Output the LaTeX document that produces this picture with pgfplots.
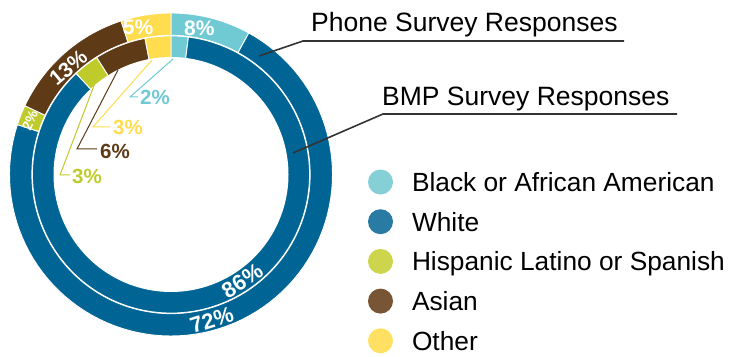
\documentclass[border=0pt]{standalone}
\usepackage{pgfplots}
\pgfplotsset{compat=1.18}
\usepackage{fontspec}
\setmainfont{Liberation Sans}

\definecolor{cyanR}{HTML}{6FCAD3}
\definecolor{blueR}{HTML}{006595}
\definecolor{greenR}{HTML}{BFCB2A}
\definecolor{brownR}{HTML}{5E3A16}
\definecolor{yellowR}{HTML}{FFDD4E}
\definecolor{cyanL}{HTML}{85D0D7}
\definecolor{blueL}{HTML}{2A7BA3}
\definecolor{greenL}{HTML}{CCD54B}
\definecolor{brownL}{HTML}{785535}
\definecolor{yellowL}{HTML}{FFE063}
\definecolor{leader}{HTML}{333333}

% segment: colour, cumulative % start, cumulative % end, radius
\newcommand\seg[4]{\addplot[forget plot, fill=#1, draw=white, line width=0.9pt, data cs=polar, domain={90-3.6*#3}:{90-3.6*#2}, samples=90] {#4} -- (axis cs:0,0) -- cycle;}
\newcommand\disk[1]{\addplot[forget plot, fill=white, draw=none, data cs=polar, domain=0:360, samples=180] {#1} -- cycle;}

\begin{document}
\begin{tikzpicture}
\begin{axis}[
  x=1pt, y=1pt,
  xmin=-171, xmax=559, ymin=-176.5, ymax=174.5,
  hide axis, clip=false,
  legend cell align=left,
  legend style={at={(axis cs:197,5.1)}, anchor=north west, draw=none, fill=none,
    inner sep=0pt, outer sep=0pt, row sep=11.7pt, column sep=19pt,
    font=\fontsize{26.3}{30}\selectfont,
    nodes={inner sep=0pt, text height=22pt, text depth=6pt}},
  legend image code/.code={\fill[#1] (12.5pt,1.4pt) circle (12.5pt);},
]
\path (axis cs:-171,-176.5) rectangle (axis cs:559,174.5);

% Phone Survey Responses (outer ring): Black 8, White 72, Hispanic 2, Asian 13, Other 5
\seg{cyanR}{0}{8}{161.5}
\seg{blueR}{8}{80}{161.5}
\seg{greenR}{80}{82}{161.5}
\seg{brownR}{82}{95}{161.5}
\seg{yellowR}{95}{100}{161.5}
\disk{139.6}
% BMP Survey Responses (inner ring): Black 2, White 86, Hispanic 3, Asian 6, Other 3
\seg{cyanR}{0}{2}{138.6}
\seg{blueR}{2}{88}{138.6}
\seg{greenR}{88}{91}{138.6}
\seg{brownR}{91}{97}{138.6}
\seg{yellowR}{97}{100}{138.6}
\disk{117.5}

% legend
\addlegendimage{fill=cyanL, draw=none}\addlegendentry{Black or African American}
\addlegendimage{fill=blueL, draw=none}\addlegendentry{White}
\addlegendimage{fill=greenL, draw=none}\addlegendentry{Hispanic Latino or Spanish}
\addlegendimage{fill=brownL, draw=none}\addlegendentry{Asian}
\addlegendimage{fill=yellowL, draw=none}\addlegendentry{Other}

% ring labels
\begin{scope}[every node/.style={text=white, font=\bfseries\fontsize{21}{24}\selectfont, inner sep=0pt}]
\node at (axis cs:28.3,146.5) {8\%};
\node at (axis cs:-33,147.5) {5\%};
\node[rotate=40] at (axis cs:-102.7,107) {13\%};
\node[rotate=66, font=\bfseries\fontsize{14}{16}\selectfont] at (axis cs:-141,54.5) {2\%};
\node[rotate=33, font=\bfseries\fontsize{22}{24}\selectfont] at (axis cs:71.2,-106.3) {86\%};
\node[rotate=17, font=\bfseries\fontsize{22}{24}\selectfont] at (axis cs:40.7,-145.5) {72\%};
\end{scope}

% callouts for inner ring
\draw[cyanR, line width=1pt] (axis cs:2,115.5) -- (axis cs:-41,77.5) -- (axis cs:-33,77.5);
\draw[yellowR, line width=1pt] (axis cs:-19,114.5) -- (axis cs:-78,47.5) -- (axis cs:-61,47.5);
\draw[brownR, line width=1pt] (axis cs:-53,104.5) -- (axis cs:-94,25.5) -- (axis cs:-74,25.5);
\draw[greenR, line width=1pt] (axis cs:-76,91.5) -- (axis cs:-111,-0.5) -- (axis cs:-101,-0.5);
\begin{scope}[every node/.style={anchor=base west, font=\bfseries\fontsize{20.5}{24}\selectfont, inner sep=0pt}]
\node[text=cyanR] at (axis cs:-31,69.5) {2\%};
\node[text=yellowR] at (axis cs:-58,39.5) {3\%};
\node[text=brownR] at (axis cs:-71,16.2) {6\%};
\node[text=greenR] at (axis cs:-99,-8.8) {3\%};
\end{scope}

% titles with leader lines
\draw[leader, line width=1.6pt] (axis cs:88,118.5) -- (axis cs:132,133.5) -- (axis cs:453,133.5);
\draw[leader, line width=1.6pt] (axis cs:122,21.5) -- (axis cs:212,60.5) -- (axis cs:506,60.5);
\node[anchor=base west, inner sep=0pt, font=\fontsize{26.5}{30}\selectfont] at (axis cs:140,142.5) {Phone Survey Responses};
\node[anchor=base west, inner sep=0pt, font=\fontsize{26.5}{30}\selectfont] at (axis cs:211,68.8) {BMP Survey Responses};
\end{axis}
\end{tikzpicture}
\end{document}
